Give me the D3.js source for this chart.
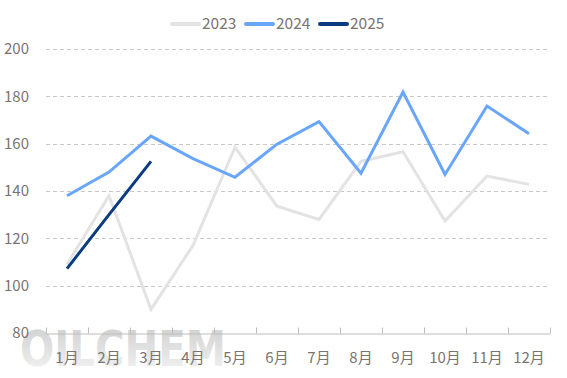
<!DOCTYPE html>
<html>
<head>
<meta charset="utf-8">
<script src="https://cdn.jsdelivr.net/npm/d3@7"></script>
<style>
  html, body { margin: 0; padding: 0; background: #fff; }
  svg { display: block; font-family: "Noto Sans CJK SC", "Noto Sans", sans-serif; }
</style>
</head>
<body>
<div id="container"></div>
<script>
// ---------- DATA ----------
const months = ['1月', '2月', '3月', '4月', '5月', '6月', '7月', '8月', '9月', '10月', '11月', '12月'];
const yTicks = [80, 100, 120, 140, 160, 180, 200];
const values2023 = [109, 138, 90, 117, 158.5, 133.6, 128, 152.5, 156.6, 127.3, 146.3, 142.8];
const values2024 = [138, 148, 163.2, 153.7, 145.8, 159.8, 169.3, 147.5, 181.8, 147, 175.9, 164.2];
const values2025 = [107.2, 130, 152.5];
const seriesNames = ['2023', '2024', '2025'];
const seriesColors = ['#e3e3e3', '#69a6f9', '#0b3c81'];

// ---------- DIMENSIONS ----------
const width = 567;
const height = 378;
const marginTop = 49;
const marginRight = 17;
const marginBottom = 45;
const marginLeft = 46;

const svg = d3.select('#container').append('svg')
    .attr('width', width)
    .attr('height', height);

// ---------- SCALES ----------
const x = d3.scaleBand()
    .domain(months)
    .range([marginLeft, width - marginRight]);

const y = d3.scaleLinear()
    .domain([80, 200])
    .range([height - marginBottom, marginTop]);

// ---------- WATERMARK ----------
const grad = svg.append('defs').append('linearGradient')
    .attr('id', 'wm')
    .attr('x1', 0).attr('y1', 0).attr('x2', 0).attr('y2', 1);
grad.append('stop').attr('offset', '0%').attr('stop-color', '#cdcdcd');
grad.append('stop').attr('offset', '100%').attr('stop-color', '#f6f6f6');

svg.append('text')
    .attr('x', 20)
    .attr('y', 366)
    .attr('textLength', 206)
    .attr('lengthAdjust', 'spacingAndGlyphs')
    .style('font-family', '"DejaVu Sans", sans-serif')
    .style('font-weight', 'bold')
    .style('font-size', '49px')
    .attr('fill', 'url(#wm)')
    .text('OILCHEM');

// ---------- GRID ----------
svg.append('g')
    .selectAll('line')
    .data(yTicks.filter(d => d > 80))
    .join('line')
    .attr('x1', marginLeft)
    .attr('x2', width - marginRight - 2)
    .attr('y1', d => Math.round(y(d)) + 0.5)
    .attr('y2', d => Math.round(y(d)) + 0.5)
    .attr('stroke', '#c8c8c8')
    .attr('stroke-dasharray', '4,3');

// ---------- AXES ----------
const yAxis = svg.append('g')
    .attr('transform', `translate(${marginLeft},0)`)
    .call(d3.axisLeft(y).tickValues(yTicks).tickSize(0).tickPadding(17));
yAxis.select('.domain').remove();
yAxis.selectAll('text')
    .attr('fill', '#7a7470')
    .style('font-size', '15px')
    .style('font-family', '"Noto Sans CJK SC", sans-serif');

const xAxisY = Math.round(y(80)) + 0.5;
const xAxis = svg.append('g')
    .attr('transform', `translate(0,${xAxisY})`)
    .call(d3.axisBottom(x).tickSize(0).tickPadding(19));
xAxis.select('.domain').attr('stroke', '#bdbdbd');
xAxis.selectAll('text')
    .attr('fill', '#7a7470')
    .style('font-size', '15px')
    .style('font-family', '"Noto Sans CJK SC", sans-serif');

// ticks between bands, pointing up
const bounds = months.map(m => x(m)).concat([x(months[months.length - 1]) + x.bandwidth()]);
svg.append('g')
    .selectAll('line')
    .data(bounds)
    .join('line')
    .attr('x1', d => Math.round(d) + 0.5)
    .attr('x2', d => Math.round(d) + 0.5)
    .attr('y1', xAxisY)
    .attr('y2', xAxisY - 6)
    .attr('stroke', '#bdbdbd');

// ---------- LINES ----------
const line = d3.line()
    .x((d, i) => x(months[i]) + x.bandwidth() / 2)
    .y(d => y(d));

[values2023, values2024, values2025].forEach((vals, i) => {
    svg.append('path')
        .datum(vals)
        .attr('fill', 'none')
        .attr('stroke', seriesColors[i])
        .attr('stroke-width', 3)
        .attr('stroke-linejoin', 'miter')
        .attr('d', line);
});

// ---------- LEGEND ----------
const legendX = [172, 246, 320];
const legend = svg.append('g');
seriesNames.forEach((name, i) => {
    legend.append('line')
        .attr('x1', legendX[i])
        .attr('x2', legendX[i] + 27)
        .attr('y1', 24)
        .attr('y2', 24)
        .attr('stroke', seriesColors[i])
        .attr('stroke-width', 4)
        .attr('stroke-linecap', 'round');
    legend.append('text')
        .attr('x', legendX[i] + 30)
        .attr('y', 24)
        .attr('dy', '0.35em')
        .attr('fill', '#7a7470')
        .style('font-size', '15.5px')
        .text(name);
});
</script>
</body>
</html>
